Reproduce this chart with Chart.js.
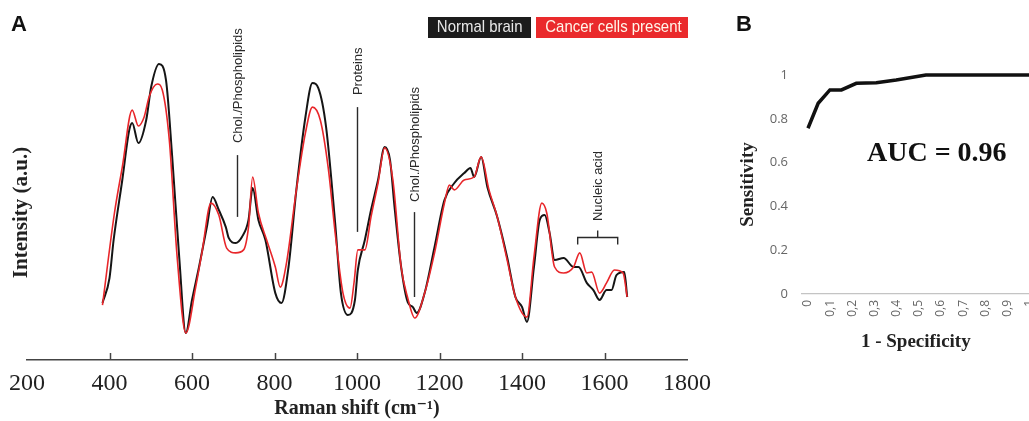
<!DOCTYPE html>
<html>
<head>
<meta charset="utf-8">
<script src="https://cdn.jsdelivr.net/npm/chart.js@4.4.0/dist/chart.umd.min.js"></script>
<style>
	body { margin: 0; width: 1029px; height: 421px; overflow: hidden; background: #fff; position: relative; }
	canvas { position: absolute; top: 0; }
	#chartA { left: 0; }
	#chartB { left: 680px; }
	.panel { position: absolute; top: 11px; font: bold 22px "Liberation Sans", Arial, sans-serif; color: #111; }
	.key { position: absolute; top: 17px; height: 21px; line-height: 21px; text-align: center; white-space: nowrap;
		font: 17px "Liberation Sans", Arial, sans-serif; }
	.key span { display: inline-block; transform: scaleX(0.88); }
	.serif { position: absolute; font-family: "Liberation Serif", "DejaVu Serif", serif; font-weight: bold; color: #222; }
</style>
</head>
<body>
<canvas id="chartA" width="720" height="421"></canvas>
<canvas id="chartB" width="370" height="421"></canvas>

<div class="panel" style="left:11px">A</div>
<div class="panel" style="left:736px">B</div>
<div class="key" style="left:428px;width:103px;background:#1c1c1c;color:#e8e8e8"><span>Normal brain</span></div>
<div class="key" style="left:536px;width:152px;background:#ea2a2c;color:#fff6ea"><span>Cancer cells present</span></div>
<div class="serif" style="left:-80px;top:200px;width:200px;text-align:center;font-size:21px;transform:rotate(-90deg)">Intensity (a.u.)</div>
<div class="serif" style="left:867px;top:136px;font-size:28px;color:#111">AUC = 0.96</div>

<script>
// panel A - Raman spectra (cm-1 vs arbitrary intensity)
var normalShift = [383,400,410,431,448,455,470,489,501,520,537,552,569,585,600,617,636,650,665,682,689,706,721,737,747,761,778,802,817,834,853,875,892,906,925,947,961,978,995,1002,1019,1034,1051,1067,1080,1091,1107,1123,1135,1145,1164,1188,1212,1236,1260,1275,1284,1301,1316,1340,1364,1384,1400,1412,1429,1443,1455,1467,1479,1501,1525,1537,1557,1573,1588,1605,1617,1629,1648,1655];
var normalInt = [19.0,27.3,40.0,60.0,76.7,79.0,72.3,80.0,91.0,98.7,93.3,67.7,34.3,9.0,20.0,31.0,44.3,54.3,50.0,44.3,40.7,39.0,41.0,46.7,57.3,46.7,40.0,22.3,19.0,31.0,56.7,81.0,92.3,90.7,77.7,45.7,22.3,15.0,20.0,30.0,40.0,50.0,60.0,71.0,66.7,51.0,31.0,19.3,17.7,15.7,22.3,37.7,53.3,59.0,62.3,64.0,61.0,67.7,57.7,47.7,34.3,21.0,17.7,12.7,31.0,46.7,48.3,42.3,33.3,34.0,31.0,31.0,25.7,23.3,20.0,23.3,23.3,28.3,29.3,21.0];

var cancerShift = [383,412,431,455,470,484,496,516,528,545,564,585,609,624,646,665,684,706,725,737,747,761,781,802,814,829,853,875,892,911,930,949,966,983,993,1002,1019,1034,1051,1067,1087,1107,1123,1140,1164,1188,1212,1224,1236,1260,1284,1301,1320,1340,1364,1384,1412,1429,1448,1460,1479,1501,1525,1540,1557,1569,1588,1605,1624,1645,1655];
var cancerInt = [18.3,49.0,64.3,83.3,78.0,81.0,87.7,92.0,90.0,73.3,34.3,9.0,24.3,35.7,52.3,48.3,37.3,35.7,36.7,44.3,61.0,49.0,40.0,31.0,24.3,32.3,56.7,75.7,84.3,80.0,64.3,40.0,22.3,17.3,26.0,36.7,36.7,47.7,59.0,70.7,60.0,31.0,20.7,14.0,22.3,35.7,52.3,58.3,56.7,60.0,61.0,67.7,56.7,47.7,33.3,21.0,14.3,34.3,52.3,49.0,31.0,29.0,31.0,35.7,29.0,29.3,22.3,25.7,30.0,29.0,21.0];

var shiftTicks = [200,400,600,800,1000,1200,1400,1600,1800];

// band markers: wavenumber, label, line top / bottom and label start (intensity units)
var bandShift = [708, 1001, 1138];
var bandLabel = ['Chol./Phospholipids', 'Proteins', 'Chol./Phospholipids'];
var bandLineTop = [68.3, 84.3, 49.3];
var bandLineBottom = [47.7, 42.7, 21.0];
var bandTextStart = [72.3, 88.3, 52.7];
// nucleic acid bracket
var nucleicFrom = 1535, nucleicTo = 1632, nucleicLevel = 41.0, nucleicTextStart = 46.3;

// panel B - ROC
var rocFpr = [0, 0.046, 0.099, 0.151, 0.218, 0.308, 0.398, 0.532, 1.0];
var rocTpr = [0.757, 0.871, 0.932, 0.932, 0.962, 0.965, 0.977, 1.0, 1.0];
var rocXTicks = [0,0.1,0.2,0.3,0.4,0.5,0.6,0.7,0.8,0.9,1];
var rocXLabels = ['0','0,1','0,2','0,3','0,4','0,5','0,6','0,7','0,8','0,9','1'];
var rocYTicks = [0,0.2,0.4,0.6,0.8,1];
var rocYLabels = ['0','0.2','0.4','0.6','0.8','1'];

function toPoints(xs, ys) {
	var pts = [];
	for(var i = 0; i < xs.length; i++) {
		pts.push({x: xs[i], y: ys[i]});
	}
	return pts;
}

var serif = '"Liberation Serif", "DejaVu Serif", serif';
var sans = '"Liberation Sans", Arial, sans-serif';

// draws the band labels and inward tick marks on panel A
var ramanNotes = {
	id: 'ramanNotes',
	afterDatasetsDraw: function(chart) {
		var ctx = chart.ctx;
		var xs = chart.scales.x, ys = chart.scales.y;
		ctx.save();
		ctx.strokeStyle = '#2a2a2a';
		ctx.fillStyle = '#2a2a2a';
		ctx.lineWidth = 1.4;
		ctx.font = '13px ' + sans;

		for(var i = 0; i < bandShift.length; i++) {
			var px = Math.round(xs.getPixelForValue(bandShift[i])) + 0.5;
			ctx.beginPath();
			ctx.moveTo(px, ys.getPixelForValue(bandLineTop[i]));
			ctx.lineTo(px, ys.getPixelForValue(bandLineBottom[i]));
			ctx.stroke();
			drawUp(ctx, bandLabel[i], px + 1, ys.getPixelForValue(bandTextStart[i]));
		}

		//nucleic acid bracket
		var x1 = xs.getPixelForValue(nucleicFrom), x2 = xs.getPixelForValue(nucleicTo);
		var xm = (x1 + x2) / 2;
		var by = Math.round(ys.getPixelForValue(nucleicLevel)) + 0.5;
		ctx.beginPath();
		ctx.moveTo(x1, by + 7); ctx.lineTo(x1, by); ctx.lineTo(x2, by); ctx.lineTo(x2, by + 7);
		ctx.moveTo(xm, by); ctx.lineTo(xm, by - 7);
		ctx.stroke();
		drawUp(ctx, 'Nucleic acid', xm + 1, ys.getPixelForValue(nucleicTextStart));

		//tick marks pointing up from the axis
		var base = chart.chartArea.bottom;
		ctx.strokeStyle = '#444';
		ctx.lineWidth = 1.5;
		shiftTicks.forEach(function(v) {
			if(v === 200 || v === 1800) return;
			var tx = Math.round(xs.getPixelForValue(v)) + 0.5;
			ctx.beginPath();
			ctx.moveTo(tx, base);
			ctx.lineTo(tx, base - 7);
			ctx.stroke();
		});
		ctx.restore();
	}
};

function drawUp(ctx, text, x, y) {
	ctx.save();
	ctx.translate(x, y);
	ctx.rotate(-Math.PI / 2);
	ctx.textAlign = 'left';
	ctx.textBaseline = 'middle';
	ctx.fillText(text, 0, 0);
	ctx.restore();
}

new Chart(document.getElementById('chartA'), {
	type: 'line',
	data: {
		datasets: [{
			label: 'Normal brain',
			data: toPoints(normalShift, normalInt),
			borderColor: '#151515',
			borderWidth: 2,
			order: 2
		}, {
			label: 'Cancer cells present',
			data: toPoints(cancerShift, cancerInt),
			borderColor: '#e8262a',
			borderWidth: 1.6,
			order: 1
		}]
	},
	options: {
		responsive: false,
		animation: false,
		events: [],
		layout: { padding: { left: 27, right: 28, top: 45, bottom: 0 } },
		elements: {
			point: { radius: 0 },
			line: { cubicInterpolationMode: 'monotone', fill: false }
		},
		plugins: { legend: { display: false }, tooltip: { enabled: false } },
		scales: {
			x: {
				type: 'linear', min: 200, max: 1800,
				afterBuildTicks: function(s) { s.ticks = shiftTicks.map(function(v) { return {value: v}; }); },
				afterFit: function(s) { s.height = 61; },
				border: { display: true, color: '#444', width: 1.5 },
				grid: { display: false, drawTicks: false },
				ticks: { padding: 9, maxRotation: 0, color: '#222', font: { family: serif, size: 24 },
					callback: function(v) { return String(v); } },
				title: { display: true, text: 'Raman shift (cm⁻¹)', color: '#222', padding: { top: 0, bottom: 0 },
					font: { family: serif, size: 20, weight: 'bold' } }
			},
			y: { display: false, min: 0, max: 105 }
		}
	},
	plugins: [ramanNotes]
});

new Chart(document.getElementById('chartB'), {
	type: 'line',
	data: {
		datasets: [{
			label: 'ROC',
			data: toPoints(rocFpr, rocTpr),
			borderColor: '#111',
			borderWidth: 3.5,
			tension: 0,
			pointRadius: 0,
			clip: 6
		}]
	},
	options: {
		responsive: false,
		animation: false,
		events: [],
		layout: { padding: { left: 50, right: 19, top: 75, bottom: 62 } },
		plugins: { legend: { display: false }, tooltip: { enabled: false } },
		scales: {
			x: {
				type: 'linear', min: -0.027, max: 1,
				afterBuildTicks: function(s) { s.ticks = rocXTicks.map(function(v) { return {value: v}; }); },
				afterFit: function(s) { s.height = 65; },
				border: { display: true, color: '#c4c4c4', width: 1.2 },
				grid: { display: false, drawTicks: false },
				ticks: {
					padding: 6, minRotation: 90, maxRotation: 90, autoSkip: false, color: '#666',
					font: { family: '"Open Sans", "Noto Sans", sans-serif', size: 12 },
					callback: function(v, i) { return rocXLabels[i]; }
				},
				title: { display: true, text: '1 - Specificity', color: '#222', padding: { top: 0, bottom: 6 },
					font: { family: serif, size: 19, weight: 'bold' } }
			},
			y: {
				min: 0, max: 1,
				afterBuildTicks: function(s) { s.ticks = rocYTicks.map(function(v) { return {value: v}; }); },
				afterFit: function(s) { s.width = 72; },
				border: { display: false },
				grid: { display: false, drawTicks: false },
				ticks: { padding: 14, color: '#666', font: { family: '"Open Sans", "Noto Sans", sans-serif', size: 13 },
					callback: function(v, i) { return rocYLabels[i]; } },
				title: { display: true, text: 'Sensitivity', color: '#222', padding: { top: 7, bottom: 0 },
					font: { family: serif, size: 19, weight: 'bold' } }
			}
		}
	}
});
</script>
</body>
</html>
